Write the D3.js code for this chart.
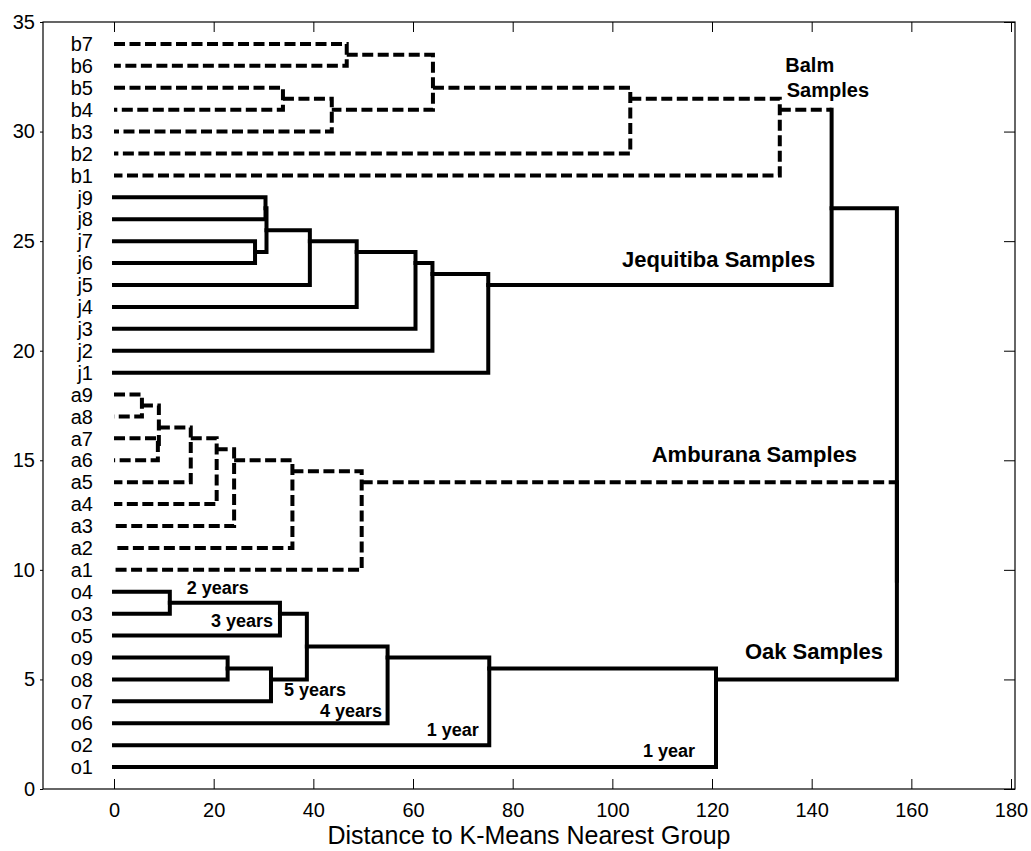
<!DOCTYPE html>
<html>
<head>
<meta charset="utf-8">
<script src="https://cdn.jsdelivr.net/npm/d3@7"></script>
<style>
  html, body { margin: 0; padding: 0; background: #fff; }
  svg { display: block; font-family: "Liberation Sans", Arial, sans-serif; }
</style>
</head>
<body>
<svg id="chart" width="1031" height="851"></svg>
<script>
// ---------------- DATA ----------------
// leaves, top to bottom (positions 34 .. 1)
const leafLabels = ["b7","b6","b5","b4","b3","b2","b1",
                    "j9","j8","j7","j6","j5","j4","j3","j2","j1",
                    "a9","a8","a7","a6","a5","a4","a3","a2","a1",
                    "o4","o3","o5","o9","o8","o7","o6","o2","o1"];
const dashedGroups = ["b","a"];   // balm and amburana drawn dashed

// merges: child A, child B, distance, dashed
const mergeA      = ["b7","b5","n2","n1","n4","n5",
                     "j9","j7","n7","n9","n10","n11","n12","n13",
                     "a9","a7","n15","n17","n18","n19","n20","n21",
                     "o4","n23","o9","n25","n24","n27","n28","n29",
                     "n6","n22","n31"];
const mergeB      = ["b6","b4","b3","n3","b2","b1",
                     "j8","j6","n8","j5","j4","j3","j2","j1",
                     "a8","a6","n16","a5","a4","a3","a2","a1",
                     "o3","o5","o8","o7","n26","o6","o2","o1",
                     "n14","n30","n32"];
const mergeHeight = [46.7, 33.9, 43.7, 64.0, 103.6, 133.6,
                     30.4, 28.3, 30.6, 39.3, 48.7, 60.5, 63.9, 75.1,
                     5.6, 8.8, 9.0, 15.4, 20.6, 24.1, 35.8, 49.7,
                     11.2, 33.3, 22.8, 31.5, 38.7, 54.9, 75.3, 120.8,
                     144.0, 157.1, 157.1];
const mergeDashed = [true,true,true,true,true,true,
                     false,false,false,false,false,false,false,false,
                     true,true,true,true,true,true,true,true,
                     false,false,false,false,false,false,false,false,
                     false,false,false];

const xTicks = [0,20,40,60,80,100,120,140,160,180];
const yTicks = [0,5,10,15,20,25,30,35];
const xTitle = "Distance to K-Means Nearest Group";

// group captions (bold): text, distance, y-value of baseline, anchor
const groupText   = ["Balm","Samples","Jequitiba Samples","Amburana Samples","Oak Samples"];
const groupX      = [134.7, 135.0, 140.7, 107.9, 126.6];
const groupY      = [32.74, 31.59, 23.83, 14.94, 5.93];
const groupAnchor = ["start","start","end","start","start"];

// age annotations on the oak branch
const ageText   = ["2 years","3 years","5 years","4 years","1 year","1 year"];
const ageX      = [14.6, 31.9, 34.1, 53.8, 73.2, 116.6];
const ageY      = [8.90, 7.39, 4.24, 3.30, 2.43, 1.47];
const ageAnchor = ["start","end","start","end","end","end"];

// ---------------- CHART ----------------
const svg = d3.select("#chart");
const L = 43, R = 1015, T = 22, B = 789;
const x = d3.scaleLinear().domain([-14.25, 180.8]).range([L, R]);
const y = d3.scaleLinear().domain([0, 35]).range([B, T]);

// node table
const nodes = new Map();
leafLabels.forEach((lab, i) => {
  const pos = leafLabels.length - i;
  nodes.set(lab, {y: pos, h: 0, leaves: [pos], dashed: dashedGroups.includes(lab[0])});
});
const segments = [];
mergeA.forEach((a, i) => {
  const A = nodes.get(a), Bn = nodes.get(mergeB[i]);
  const h = mergeHeight[i];
  const leaves = A.leaves.concat(Bn.leaves);
  const node = {y: d3.mean(leaves), h: h, leaves: leaves, dashed: mergeDashed[i]};
  nodes.set("n" + (i + 1), node);
  // three pieces: A stem, vertical, B stem — merge consecutive same style
  const pieces = [
    {pts: [[A.h, A.y], [h, A.y]], dashed: A.dashed},
    {pts: [[h, A.y], [h, Bn.y]], dashed: node.dashed},
    {pts: [[h, Bn.y], [Bn.h, Bn.y]], dashed: Bn.dashed}
  ];
  let cur = null;
  pieces.forEach(p => {
    if (cur && cur.dashed === p.dashed) cur.pts.push(p.pts[1]);
    else { cur = {pts: p.pts.slice(), dashed: p.dashed}; segments.push(cur); }
  });
});

const line = d3.line().x(d => x(d[0])).y(d => y(d[1]));
svg.append("g").selectAll("path").data(segments).join("path")
  .attr("d", d => line(d.pts))
  .attr("fill", "none")
  .attr("stroke", "#000")
  .attr("stroke-width", 4)
  .attr("stroke-linecap", d => d.dashed ? "butt" : "square")
  .attr("stroke-linejoin", "miter")
  .attr("stroke-dasharray", d => d.dashed ? "11,4.5" : null);

// axes
const axB = svg.append("g").attr("transform", `translate(0,${B})`)
  .call(d3.axisBottom(x).tickValues(xTicks).tickSizeInner(-10).tickSizeOuter(0).tickPadding(14).tickFormat(d3.format("d")));
const axT = svg.append("g").attr("transform", `translate(0,${T})`)
  .call(d3.axisTop(x).tickValues(xTicks).tickSizeInner(-10).tickSizeOuter(0).tickFormat(""));
const axL = svg.append("g").attr("transform", `translate(${L},0)`)
  .call(d3.axisLeft(y).tickValues(yTicks).tickSizeInner(3).tickSizeOuter(0).tickPadding(5).tickFormat(d3.format("d")));
const axR = svg.append("g").attr("transform", `translate(${R},0)`)
  .call(d3.axisRight(y).tickValues(yTicks).tickSizeInner(-11).tickSizeOuter(0).tickFormat(""));
[axB, axT, axL, axR].forEach(g => {
  g.select(".domain").remove();
  g.selectAll("line").attr("stroke", "#000").attr("stroke-width", 1);
  g.selectAll("text").attr("fill", "#000").style("font-size", "20px")
    .style("font-family", '"Liberation Sans", Arial, sans-serif');
});

svg.append("rect").attr("x", L).attr("y", T).attr("width", R - L).attr("height", B - T)
  .attr("fill", "none").attr("stroke", "#000").attr("stroke-width", 1.2);

// leaf labels
svg.append("g").selectAll("text").data(leafLabels).join("text")
  .attr("x", x(0) - 21)
  .attr("y", (d, i) => y(leafLabels.length - i))
  .attr("dy", "0.36em")
  .attr("text-anchor", "end")
  .style("font-size", "20px")
  .text(d => d);

// group captions
svg.append("g").selectAll("text").data(groupText).join("text")
  .attr("x", (d, i) => x(groupX[i]))
  .attr("y", (d, i) => y(groupY[i]))
  .attr("text-anchor", (d, i) => groupAnchor[i])
  .style("font-size", (d, i) => i < 2 ? "20px" : "22px")
  .style("font-weight", "bold")
  .text(d => d);

// age annotations
svg.append("g").selectAll("text").data(ageText).join("text")
  .attr("x", (d, i) => x(ageX[i]))
  .attr("y", (d, i) => y(ageY[i]))
  .attr("text-anchor", (d, i) => ageAnchor[i])
  .style("font-size", "18px").style("font-weight", "bold")
  .text(d => d);

// x title
svg.append("text").attr("x", (L + R) / 2).attr("y", 844)
  .attr("text-anchor", "middle").style("font-size", "25px")
  .text(xTitle);
</script>
</body>
</html>
